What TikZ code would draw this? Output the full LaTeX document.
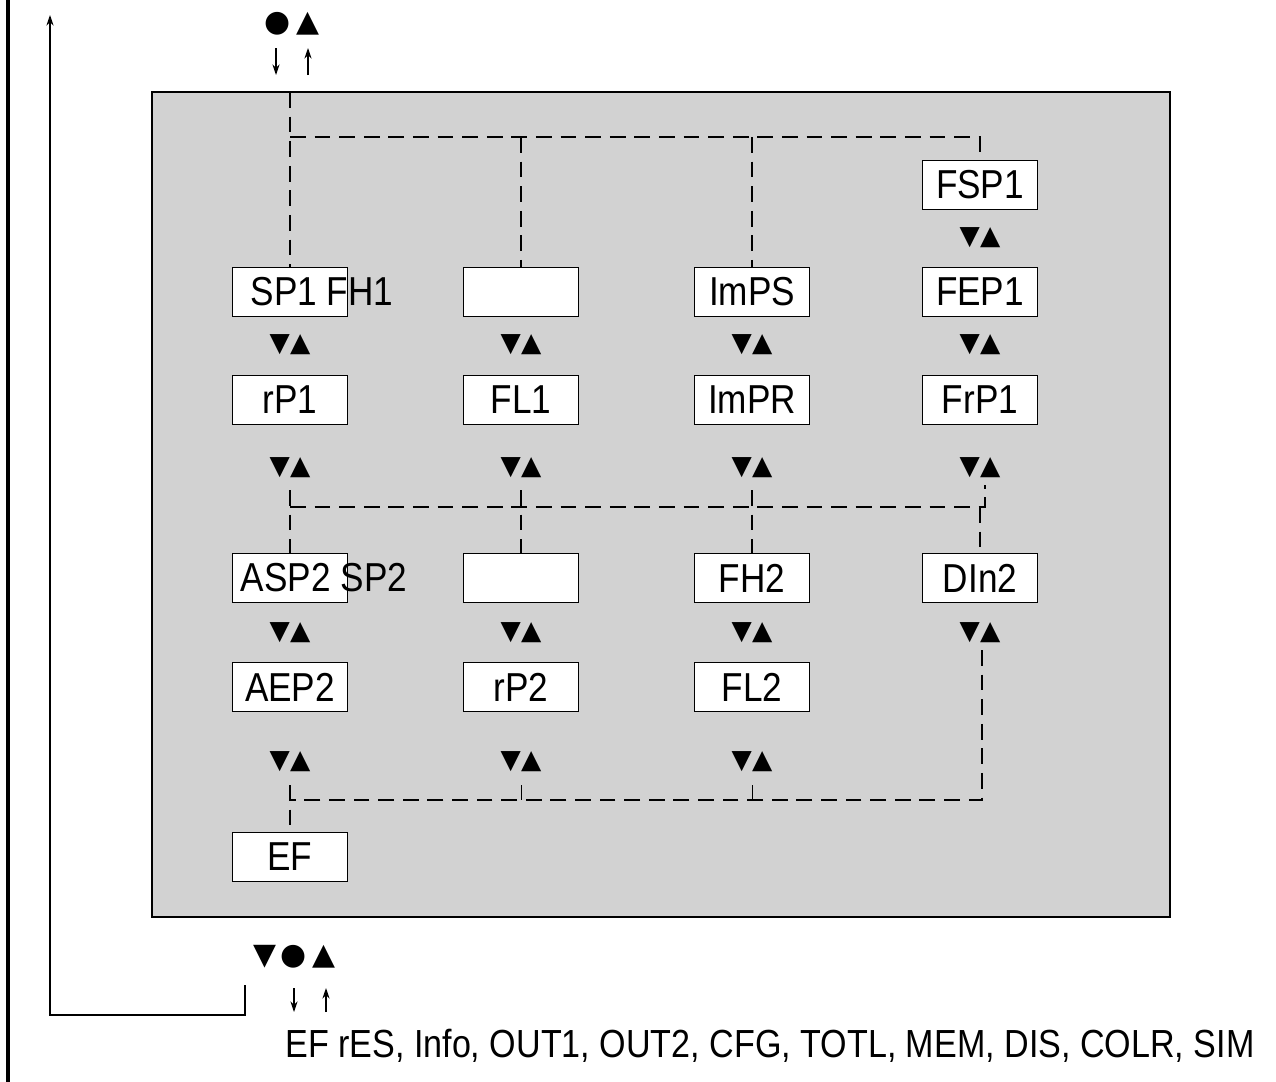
\documentclass[tikz,border=0pt]{standalone}
\usepackage{fontspec}
\setmainfont[FakeStretch=0.87]{Liberation Sans}
\newfontfamily\symfont{DejaVu Sans}
\usetikzlibrary{arrows.meta}
\begin{document}
\begin{tikzpicture}[x=0.02cm,y=-0.02cm,
    menu/.style={draw,thick,fill=white,minimum width=2.3cm,minimum height=0.98cm,
        inner sep=0pt,font=\fontsize{23}{26}\selectfont},
    keys/.style={font=\symfont\fontsize{15}{18}\selectfont,inner sep=0pt},
    link/.style={dashed,thick,dash pattern=on 9pt off 5pt},
    flow/.style={-{Stealth[length=6pt,width=4pt]},semithick}
  ]
  \useasboundingbox (0,0) rectangle (1276,1082);
  % frame
  \draw[line width=2.5pt] (8,0) -- (8,1082);
  \draw[thick,fill=gray!35] (152,92) rectangle (1170,917);
  % column 1
  \node[menu] (sp1) at (290,292) {};
  \node[font=\fontsize{23}{26}\selectfont] at (322,292) {SP1 FH1};
  \node[menu] (rp1) at (290,400) {rP1};
  \node[menu] (asp2) at (290,578) {};
  \node[font=\fontsize{23}{26}\selectfont] at (324,578) {ASP2 SP2};
  \node[menu] (aep2) at (290,687) {AEP2};
  \node[menu] (ef) at (290,857) {EF};
  % column 2
  \node[menu] (blank1) at (521,292) {};
  \node[menu] (fl1) at (521,400) {FL1};
  \node[menu] (blank2) at (521,578) {};
  \node[menu] (rp2) at (521,687) {rP2};
  % column 3
  \node[menu] (imps) at (752,292) {ImPS};
  \node[menu] (impr) at (752,400) {ImPR};
  \node[menu] (fh2) at (752,578) {FH2};
  \node[menu] (fl2) at (752,687) {FL2};
  % column 4
  \node[menu] (fsp1) at (980,185) {FSP1};
  \node[menu] (fep1) at (980,292) {FEP1};
  \node[menu] (frp1) at (980,400) {FrP1};
  \node[menu] (din2) at (980,578) {DIn2};
  % key symbols
  \foreach \x/\y in {290/345,521/345,752/345,980/345,980/238,
                     290/468,521/468,752/468,980/468,
                     290/633,521/633,752/633,980/633,
                     290/762,521/762,752/762}
    \node[keys] at (\x,\y) {▼▲};
  % dashed branches
  \coordinate (top) at (290,92);
  \draw[link] (top) -- (sp1.north);
  \draw[link] (290,137) -- (980,137) -- (fsp1.north);
  \draw[link] (521,137) -- (blank1.north);
  \draw[link] (752,137) -- (imps.north);
  \draw[link] (290,507) -- (985,507) -- (985,485);
  \draw[link] (290,490) -- (asp2.north);
  \draw[link] (521,490) -- (blank2.north);
  \draw[link] (752,490) -- (fh2.north);
  \draw[link] (980,507) -- (din2.north);
  \draw[link] (982,650) -- (982,800) -- (290,800);
  \draw[link] (290,785) -- (ef.north);
  \draw (521,785) -- (521,800);
  \draw (752,785) -- (752,800);
  % keys outside
  \node[keys,font=\symfont\fontsize{17}{20}\selectfont] (topkeys) at (292,24) {●\,▲};
  \draw[flow] (276,48) -- (276,75);
  \draw[flow] (308,75) -- (308,48);
  \node[keys,font=\symfont\fontsize{17}{20}\selectfont] (botkeys) at (294,957) {▼\,●\,▲};
  \draw[flow] (294,988) -- (294,1012);
  \draw[flow] (326,1012) -- (326,988);
  % return path
  \coordinate (ret) at (245,985);
  \draw[flow] (ret) -- (245,1015) -- (50,1015) -- (50,15);
  \node[anchor=west,inner sep=0pt,font=\fontsize{22.3}{25}\selectfont] (more) at (285,1046)
    {EF rES, Info, OUT1, OUT2, CFG, TOTL, MEM, DIS, COLR, SIM};
\end{tikzpicture}
\end{document}
